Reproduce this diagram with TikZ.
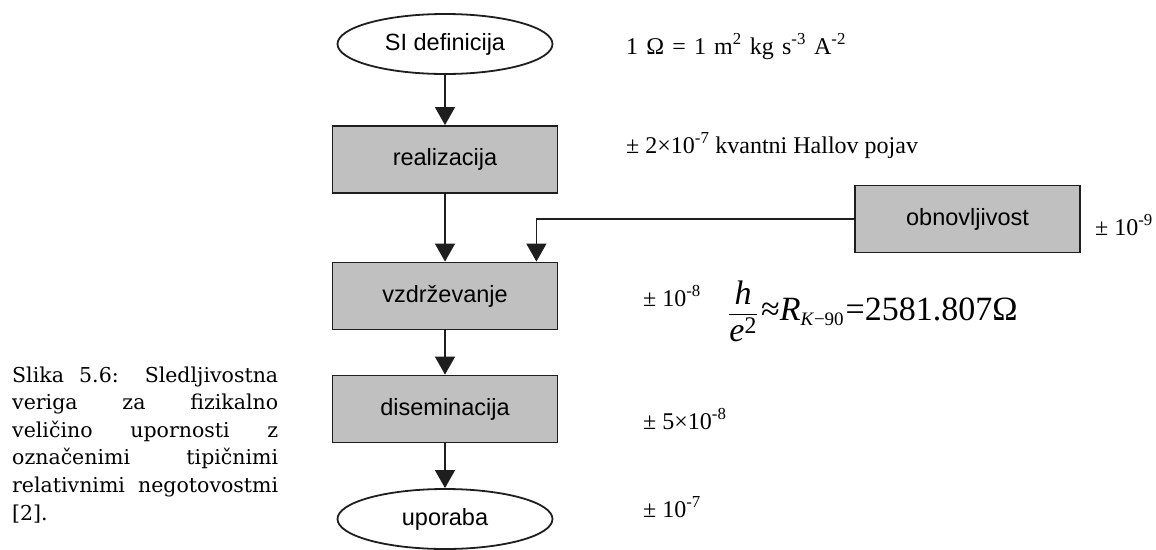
\documentclass[tikz,border=0pt]{standalone}
\usepackage{amsmath}
\usepackage{fontspec}
\setmainfont{Liberation Serif}
\newfontfamily\boxfont{Liberation Sans}
\newfontfamily\capfont{DejaVu Serif}
\usetikzlibrary{positioning, calc, shapes.geometric, arrows.meta}
\definecolor{boxgray}{HTML}{C0C0C0}
\definecolor{edge}{HTML}{1E1E1E}

\begin{document}
\begin{tikzpicture}[x=1pt, y=-1pt,
    stage/.style={rectangle, fill=boxgray, draw=edge, line width=1.8pt, minimum width=225pt, minimum height=67pt, font=\boxfont\fontsize{23.5}{27}\selectfont},
    endpoint/.style={ellipse, draw=edge, line width=1.8pt, minimum width=215pt, minimum height=60pt, inner sep=0pt, font=\boxfont\fontsize{23.5}{27}\selectfont},
    flow/.style={-{Triangle[length=18pt, width=20pt]}, line width=1.3pt, draw=edge},
    unc/.style={anchor=base west, inner sep=0pt, font=\fontsize{24}{28}\selectfont}]
            \useasboundingbox (0,0) rectangle (1156,549);
            % chain of the traceability
            \node[endpoint] (si) at (445,44) {SI definicija};
            \foreach \nm/\txt/\yy in {real/realizacija/159.5, vzdr/vzdrževanje/296, dise/diseminacija/409} {
                \node[stage] (\nm) at (445,\yy) {\txt};
            }
            \node[endpoint] (upor) at (445,519) {uporaba};
            \node[stage] (obnov) at (967.5,219) {obnovljivost};
            \draw[flow] (si) -- (real);
            \draw[flow] (real) -- (vzdr);
            \draw[flow] (vzdr) -- (dise);
            \draw[flow] (dise) -- (upor);
            \draw[flow] (obnov.west) -| ([xshift=-22pt]vzdr.north east);
            % uncertainties
            \node[unc] (siunit) at (626,54) {\spaceskip=0.34em 1 Ω = 1 m\textsuperscript{2} kg s\textsuperscript{-3} A\textsuperscript{-2}};
            \node[unc] (urreal) at (626,153) {± 2×10\textsuperscript{-7} kvantni Hallov pojav};
            \node[unc] (urobnov) at (1095,235) {± 10\textsuperscript{-9}};
            \node[unc] (urvzdr) at (643,306) {± 10\textsuperscript{-8}};
            \node[unc] (urdise) at (643,429) {± 5×10\textsuperscript{-8}};
            \node[unc] (urupor) at (643,517) {± 10\textsuperscript{-7}};
            \node[anchor=west, inner sep=0pt, font=\fontsize{34}{40}\selectfont] (klitz) at (728,311) {$\dfrac{\textit{h}}{\textit{e}\textsuperscript{2}}$\hspace{3pt}≈\textit{R}\raisebox{-5pt}{\fontsize{19}{19}\selectfont\textit{K}−90}\hspace{2pt}=2581.807Ω};
            \node[anchor=base west, inner sep=0pt, text width=266pt, align=justify, font=\capfont\fontsize{20.5}{27.6}\selectfont] (caption) at (12,382) {Slika 5.6: Sledljivostna\linebreak veriga za fizikalno\linebreak veličino upornosti z\linebreak označenimi tipičnimi\linebreak relativnimi negotovostmi\linebreak{}[2].};
        \end{tikzpicture}
\end{document}
